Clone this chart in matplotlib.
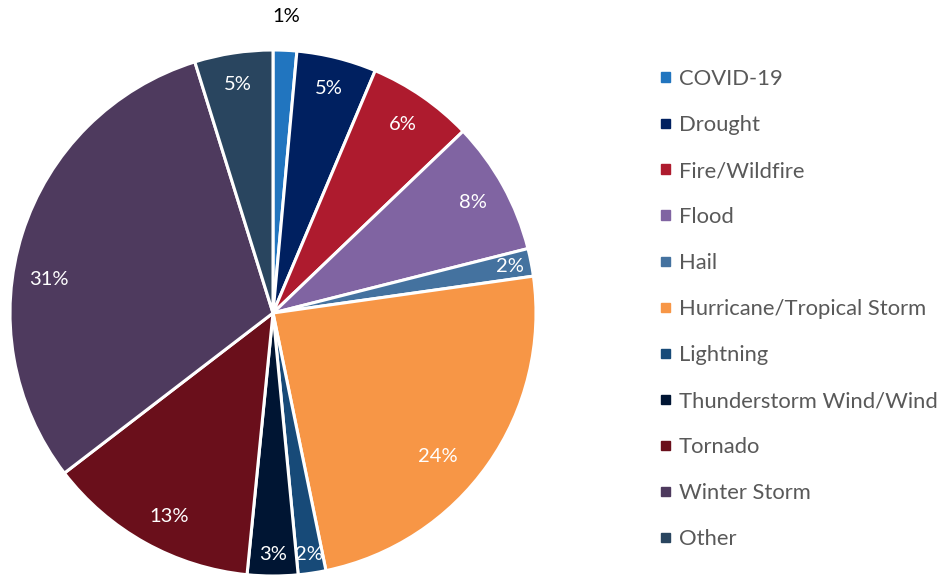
import numpy as np
import matplotlib
matplotlib.use("Agg")
import matplotlib.pyplot as plt
from matplotlib.patches import Rectangle

categories = ["COVID-19", "Drought", "Fire/Wildfire", "Flood", "Hail",
              "Hurricane/Tropical Storm", "Lightning", "Thunderstorm Wind/Wind",
              "Tornado", "Winter Storm", "Other"]
values = [1.45, 4.9, 6.5, 8.2, 1.7, 24.0, 1.7, 3.1, 13.0, 30.6, 4.8]
colors = ["#2175BF", "#002060", "#AE1B2E", "#8064A2", "#44729F", "#F79646",
          "#174A78", "#001533", "#6A0F1B", "#4E3A5E", "#29455F"]

plt.rcParams['font.family'] = ['Lato', 'DejaVu Sans']

W, H = 941, 575
fig = plt.figure(figsize=(W/100, H/100), dpi=100)

cx, cy, R = 273, 313, 263
ax = fig.add_axes([(cx-R)/W, (H-cy-R)/H, 2*R/W, 2*R/H])
wedges, _ = ax.pie(values, colors=colors, startangle=90, counterclock=False,
                   wedgeprops=dict(edgecolor="white", linewidth=2.2), radius=1)
ax.set_xlim(-1, 1)
ax.set_ylim(-1, 1)
ax.set_aspect('equal')
ax.axis('off')

total = sum(values)
label_r = [1.13, 0.88, 0.87, 0.87, 0.92, 0.83, 0.93, 0.92, 0.87, 0.86, 0.88]
angle_shift = [0, 0, 0, 0, 0, 6, 0, 0, -2, -9, 0]
cum = 0
for i, v in enumerate(values):
    mid = (cum + v/2) / total * 360 + angle_shift[i]
    cum += v
    th = np.deg2rad(mid)
    x, y = label_r[i]*np.sin(th), label_r[i]*np.cos(th)
    col = "black" if i == 0 else "white"
    ax.text(x, y, f"{round(v)}%", color=col, ha="center", va="center",
            fontsize=14.5, clip_on=False)

# legend
y0, dy = 77, 46
for i, (c, col) in enumerate(zip(categories, colors)):
    yy = y0 + i*dy
    fig.patches.append(Rectangle(((661)/W, (H-yy-4.5)/H), 9/W, 9/H,
                                 transform=fig.transFigure, color=col))
    fig.text(679/W, (H-yy-2)/H, c, color="#595959", fontsize=15.8,
             ha="left", va="center")

fig.savefig("out.png", dpi=100)
